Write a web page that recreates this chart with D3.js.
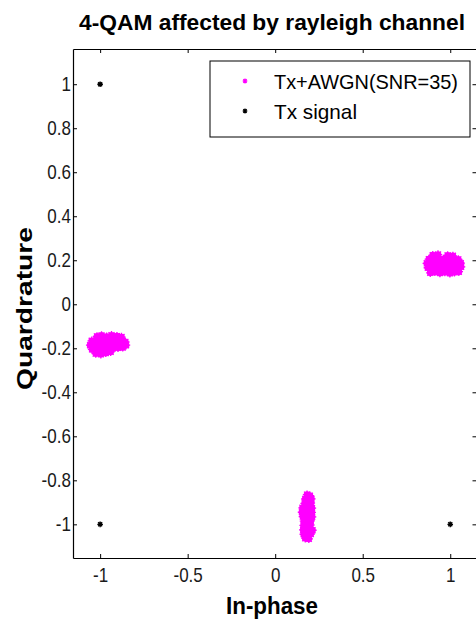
<!DOCTYPE html>
<html><head><meta charset="utf-8">
<script src="https://cdn.jsdelivr.net/npm/d3@7"></script>
<style>body{margin:0;background:#fff} svg{display:block}</style>
</head><body>
<script>
// ---- data ----
const titleText = "4-QAM affected by rayleigh channel";
const xLabelText = "In-phase";
const yLabelText = "Quardrature";
const legendLabels = ["Tx+AWGN(SNR=35)", "Tx signal"];
const xTicks = [-1, -0.5, 0, 0.5, 1];
const xTickLabels = ["-1", "-0.5", "0", "0.5", "1"];
const yTicks = [-1, -0.8, -0.6, -0.4, -0.2, 0, 0.2, 0.4, 0.6, 0.8, 1];
const yTickLabels = ["-1", "-0.8", "-0.6", "-0.4", "-0.2", "0", "0.2", "0.4", "0.6", "0.8", "1"];
const xDomain = [-1.155, 1.15];
const yDomain = [-1.153, 1.16];
// transmitted symbols
const txSignal = [[1, 1], [-1, 1], [-1, -1], [1, -1]];
// received (Tx+AWGN) clusters
const rxLeft = [
  [-1.018,-0.146],[-0.992,-0.142],[-0.963,-0.147],[-0.935,-0.141],[-0.904,-0.145],[-0.878,-0.149],
  [-1.048,-0.166],[-1.021,-0.163],[-0.993,-0.168],[-0.962,-0.162],[-0.931,-0.166],[-0.902,-0.164],[-0.874,-0.167],[-0.856,-0.171],
  [-1.057,-0.186],[-1.029,-0.184],[-1.000,-0.188],[-0.971,-0.183],[-0.944,-0.187],[-0.913,-0.185],[-0.886,-0.182],[-0.852,-0.186],
  [-1.046,-0.205],[-1.018,-0.208],[-0.987,-0.203],[-0.958,-0.206],[-0.929,-0.201],[-0.898,-0.198],[-0.871,-0.196],
  [-1.025,-0.224],[-0.996,-0.227],[-0.968,-0.221],[-0.940,-0.216]
];
const rxRight = [
  [0.886,0.143],[0.912,0.147],[0.941,0.142],[0.969,0.146],[0.998,0.141],[1.024,0.145],[1.049,0.148],
  [0.872,0.166],[0.899,0.163],[0.927,0.168],[0.955,0.162],[0.983,0.166],[1.012,0.164],[1.040,0.167],[1.062,0.170],
  [0.866,0.186],[0.893,0.184],[0.922,0.188],[0.950,0.183],[0.979,0.187],[1.006,0.185],[1.034,0.182],[1.060,0.187],
  [0.878,0.205],[0.905,0.208],[0.934,0.203],[0.962,0.206],[0.990,0.201],[1.019,0.205],[1.046,0.204],
  [0.900,0.223],[0.930,0.226],[0.985,0.222],[1.015,0.220]
];
const rxBottom = [
  [0.182,-0.865],[0.198,-0.870],
  [0.172,-0.885],[0.192,-0.888],[0.207,-0.884],
  [0.168,-0.905],[0.186,-0.908],[0.204,-0.903],
  [0.156,-0.925],[0.174,-0.928],[0.193,-0.922],[0.210,-0.926],
  [0.153,-0.945],[0.172,-0.948],[0.191,-0.943],[0.209,-0.946],
  [0.158,-0.965],[0.176,-0.968],[0.195,-0.963],[0.211,-0.966],
  [0.164,-0.985],[0.184,-0.988],[0.203,-0.984],
  [0.162,-1.005],[0.181,-1.008],[0.201,-1.003],
  [0.160,-1.025],[0.179,-1.028],[0.199,-1.023],[0.213,-1.027],
  [0.163,-1.045],[0.183,-1.048],[0.203,-1.044],
  [0.172,-1.063],[0.192,-1.066]
];

// ---- drawing ----
const W = 476, H = 621;
const M = {left: 73, top: 49, right: 476.5, bottom: 558};
const x = d3.scaleLinear().domain(xDomain).range([M.left, M.right]);
const y = d3.scaleLinear().domain(yDomain).range([M.bottom, M.top]);
const MAG = "#ff00ff";
const FONT = "'Liberation Sans', Arial, Helvetica, sans-serif";

const svg = d3.select("body").append("svg").attr("width", W).attr("height", H)
  .style("background", "#fff");

function asterisk(r) {
  const d = r * 0.72;
  return `M${-r},0L${r},0M0,${-r}L0,${r}M${-d},${-d}L${d},${d}M${-d},${d}L${d},${-d}`;
}

// clusters
const rx = rxLeft.concat(rxRight, rxBottom);
const gRx = svg.append("g");
gRx.selectAll("circle").data(rx).join("circle")
  .attr("cx", d => x(d[0])).attr("cy", d => y(d[1])).attr("r", 3.4).attr("fill", MAG);
gRx.selectAll("path").data(rx).join("path")
  .attr("transform", d => `translate(${x(d[0])},${y(d[1])})`)
  .attr("d", asterisk(4.2)).attr("stroke", MAG).attr("stroke-width", 1.3).attr("fill", "none");

// tx points
const gTx = svg.append("g");
gTx.selectAll("path").data(txSignal).join("path")
  .attr("transform", d => `translate(${x(d[0])},${y(d[1])})`)
  .attr("d", asterisk(2.8)).attr("stroke", "#000").attr("stroke-width", 1.4).attr("fill", "none");
gTx.selectAll("circle").data(txSignal).join("circle")
  .attr("cx", d => x(d[0])).attr("cy", d => y(d[1])).attr("r", 1.6).attr("fill", "#000");

// axes
const tickFmtX = (d, i) => xTickLabels[i];
const tickFmtY = (d, i) => yTickLabels[i];
const axB = svg.append("g").attr("transform", `translate(0,${M.bottom})`)
  .call(d3.axisBottom(x).tickValues(xTicks).tickFormat(tickFmtX).tickSize(-4).tickPadding(10).tickSizeOuter(0));
const axT = svg.append("g").attr("transform", `translate(0,${M.top})`)
  .call(d3.axisTop(x).tickValues(xTicks).tickFormat("").tickSize(-4).tickSizeOuter(0));
const axL = svg.append("g").attr("transform", `translate(${M.left},0)`)
  .call(d3.axisLeft(y).tickValues(yTicks).tickFormat(tickFmtY).tickSize(-4).tickPadding(2).tickSizeOuter(0));
const axR = svg.append("g").attr("transform", `translate(${M.right},0)`)
  .call(d3.axisRight(y).tickValues(yTicks).tickFormat("").tickSize(-4).tickSizeOuter(0));
[axB, axT, axL, axR].forEach(a => {
  a.select(".domain").attr("stroke", "#000").attr("stroke-width", 1.2);
  a.selectAll(".tick line").attr("stroke", "#000").attr("stroke-width", 1);
});
axB.selectAll("text").attr("font-family", FONT).attr("font-size", 20).attr("fill", "#1a1a1a")
  .attr("transform", "scale(0.85,1)").attr("x", 0);
axL.selectAll("text").attr("font-family", FONT).attr("font-size", 20).attr("fill", "#1a1a1a")
  .attr("transform", "scale(0.85,1)").attr("x", -2.5);

// legend
const lg = svg.append("g");
lg.append("rect").attr("x", 210).attr("y", 61).attr("width", 260).attr("height", 76)
  .attr("fill", "#fff").attr("stroke", "#000").attr("stroke-width", 1);
const legItems = [
  {label: legendLabels[0], color: MAG, len: 184},
  {label: legendLabels[1], color: "#000", len: 83}
];
const le = lg.selectAll("g.item").data(legItems).join("g").attr("class", "item")
  .attr("transform", (d, i) => `translate(0,${81 + i * 30})`);
le.append("path").attr("transform", "translate(245,0)").attr("d", asterisk(2.4))
  .attr("stroke", d => d.color).attr("stroke-width", 1.2).attr("fill", "none");
le.append("circle").attr("cx", 245).attr("cy", 0).attr("r", 1.3).attr("fill", d => d.color);
le.append("text").attr("x", 274).attr("y", 8).attr("font-family", FONT).attr("font-size", 21)
  .attr("textLength", d => d.len).attr("lengthAdjust", "spacingAndGlyphs")
  .attr("fill", "#000").text(d => d.label);

// title and labels
svg.append("text").attr("x", 79).attr("y", 30).attr("font-family", FONT).attr("font-weight", "bold")
  .attr("font-size", 22).attr("textLength", 386).attr("lengthAdjust", "spacingAndGlyphs").text(titleText);
svg.append("text").attr("x", 226).attr("y", 614).attr("font-family", FONT).attr("font-weight", "bold")
  .attr("font-size", 23).attr("textLength", 92).attr("lengthAdjust", "spacingAndGlyphs").text(xLabelText);
svg.append("text").attr("transform", "translate(32,390) rotate(-90)").attr("font-family", FONT)
  .attr("font-weight", "bold").attr("font-size", 22).attr("textLength", 163)
  .attr("lengthAdjust", "spacingAndGlyphs").text(yLabelText);
</script>
</body></html>
